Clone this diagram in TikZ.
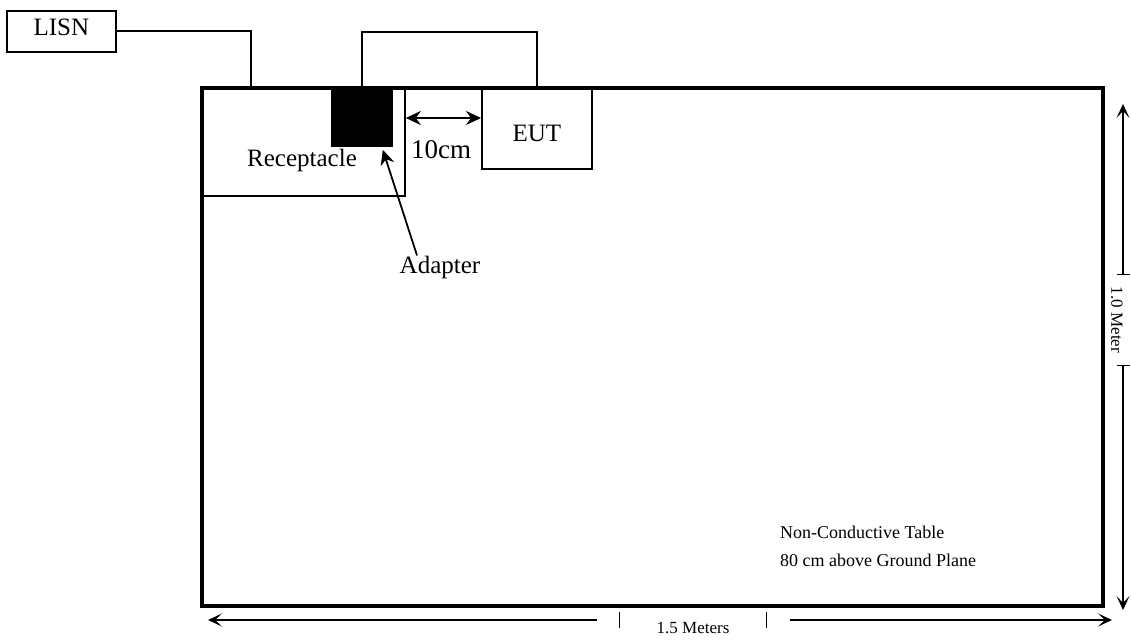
\documentclass[tikz,border=0pt]{standalone}
\usepackage{fontspec}
\setmainfont{Liberation Serif}
\usetikzlibrary{positioning,calc,arrows.meta}

\begin{document}
\begin{tikzpicture}[x=1pt, y=-1pt, >={Stealth[length=15pt,width=14pt,inset=5pt]}, line width=1.8pt,
  every node/.style={font=\fontsize{25}{30}\selectfont},
  box/.style={draw, inner sep=0pt, anchor=north west},
  dimline/.style={line width=1.3pt, >={Stealth[length=14pt,width=13pt,inset=7pt]}},
  dimtext/.style={font=\fontsize{17}{21}\selectfont}]
\useasboundingbox (0,0) rectangle (1131,642);
\node[box, line width=3.5pt, minimum width=901pt, minimum height=518pt] (table) at (200,86) {};
\node[box, minimum width=204pt, minimum height=109pt] (rec) at (200,86) {};
\node[box, fill=black, minimum width=60pt, minimum height=59pt] (adapter) at (331,86) {};
\node[box, minimum width=110pt, minimum height=82pt, text height=27pt, text depth=0pt] (eut) at (481,86) {EUT};
\node[box, minimum width=109pt, minimum height=41pt, text depth=9pt] (lisn) at (6,10) {LISN};
\node (rectext) at (302,160) {Receptacle};
\node[font=\fontsize{27}{32}\selectfont] (cmtext) at (441,150) {10cm};
\node (adtext) at (440,267) {Adapter};
\node[align=left, font=\fontsize{18}{28}\selectfont] (tabletext) at (878,546) {Non-Conductive Table\\80 cm above Ground Plane};
\node[dimtext, rotate=-90, inner xsep=11pt] (vlabel) at (1117,320) {1.0 Meter};
\node[dimtext, inner xsep=36pt] (hlabel) at (693,628) {1.5 Meters};
\coordinate (lisnin) at (251,86);
\coordinate (vtop) at (1123,104);
\coordinate (vbot) at (1123,610);
\coordinate (hleft) at (208,620);
\coordinate (hright) at (1112,620);

\draw (lisn.east) -| (lisnin);
\draw (adapter.north) -- ++(0,-54) -| (eut.north);
\draw[line width=2.5pt, <->] ([yshift=-32pt]rec.north east) -- ([yshift=-32pt]eut.north west);
\draw[->] ([xshift=-23pt,yshift=-4pt]adtext.north) -- ([xshift=-10pt,yshift=-3pt]adapter.south east);
\draw[dimline, {Bar[width=13pt]}->] ([xshift=6pt]vlabel.west) -- (vtop);
\draw[dimline, {Bar[width=13pt]}->] ([xshift=6pt]vlabel.east) -- (vbot);
\draw[dimline] ($(hlabel.west |- hleft)+(0,-8)$) -- ++(0,16);
\draw[dimline] ($(hlabel.east |- hleft)+(0,-8)$) -- ++(0,16);
\draw[dimline, ->] ($(hlabel.west |- hleft)+(-23,0)$) -- (hleft);
\draw[dimline, ->] ($(hlabel.east |- hright)+(24,0)$) -- (hright);
\end{tikzpicture}
\end{document}
